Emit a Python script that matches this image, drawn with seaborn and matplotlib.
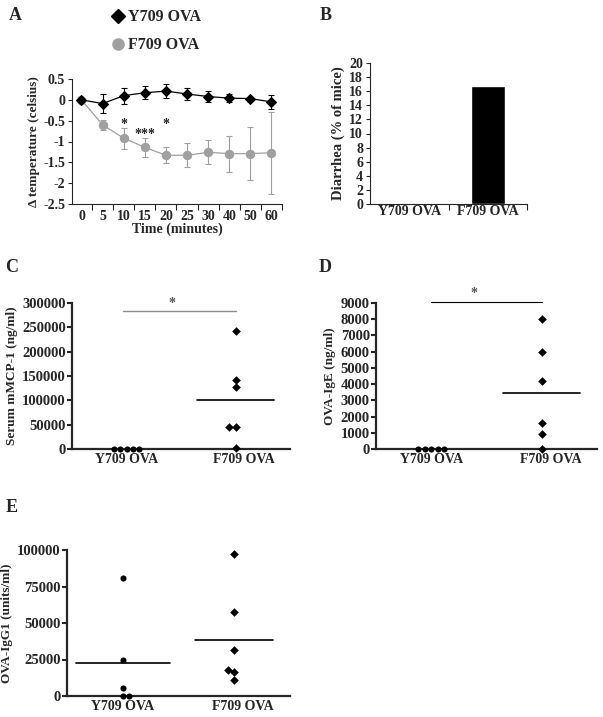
import numpy as np
import pandas as pd
import matplotlib
matplotlib.use('Agg')
import matplotlib.pyplot as plt
from matplotlib.lines import Line2D
import seaborn as sns

# ---- data ----
groups = ['Y709 OVA', 'F709 OVA']

# A: change in temperature over time
time_labels = ['0', '5', '10', '15', '20', '25', '30', '40', '50', '60']
y709_temp = [0, -0.09, 0.10, 0.17, 0.21, 0.14, 0.08, 0.04, 0.03, -0.05]
y709_err = [0, 0.23, 0.19, 0.16, 0.16, 0.14, 0.13, 0.09, 0.05, 0.16]
f709_temp = [0, -0.60, -0.92, -1.14, -1.33, -1.33, -1.26, -1.29, -1.29, -1.27]
f709_err = [0, 0.12, 0.25, 0.22, 0.19, 0.29, 0.29, 0.43, 0.64, 0.99]
temp_ticks = [0.5, 0, -0.5, -1, -1.5, -2, -2.5]
temp_tick_labels = ['0.5', '0', '-0.5', '-1', '-1.5', '-2', '-2.5']
star_time = ['10', '15', '20']
star_text = ['*', '***', '*']
star_y = [-0.6, -0.84, -0.6]

# B: diarrhea
diarrhea = [0, 16.67]

# C: serum mMCP-1
mcp_y709 = [0, 0, 0, 0, 0]
mcp_f709 = [242000, 142000, 127000, 45000, 45000, 2000]

# D: OVA-IgE
ige_y709 = [0, 0, 0, 0, 0]
ige_f709 = [8000, 5950, 4200, 1600, 950, 0]

# E: OVA-IgG1
igg_y709 = [81000, 25000, 5500, 0, 0]
igg_f709 = [97500, 57500, 31500, 17500, 16500, 11000]

# ---- style ----
sns.set_style('ticks')
plt.rcParams['font.family'] = ['Liberation Serif', 'DejaVu Serif']
plt.rcParams['font.weight'] = 'bold'
plt.rcParams['axes.labelweight'] = 'bold'

W, H = 603, 717
fig = plt.figure(figsize=(W / 100, H / 100), dpi=100)


def add_ax(l, r, t, b):
    return fig.add_axes([l / W, 1 - b / H, (r - l) / W, (b - t) / H])


gray = '#a0a0a0'

# ---- A ----
axA = add_ax(72, 282, 79, 204)
x = np.arange(len(time_labels))
axA.errorbar(x, f709_temp, yerr=f709_err, fmt='none', ecolor=gray, elinewidth=0.8, capsize=2, capthick=0.8)
axA.errorbar(x, y709_temp, yerr=y709_err, fmt='none', ecolor='black', elinewidth=0.8, capsize=2, capthick=0.8)
sns.lineplot(x=x, y=f709_temp, ax=axA, color=gray, marker='o', markersize=6, markeredgecolor=gray, linewidth=0.9)
sns.lineplot(x=x, y=y709_temp, ax=axA, color='black', marker='D', markersize=5, markeredgecolor='black', linewidth=0.9)
for t, s, yy in zip(star_time, star_text, star_y):
    axA.text(time_labels.index(t), yy, s, ha='center', va='center', fontsize=10)
axA.set_xlim(-0.45, 9.5)
axA.set_ylim(-2.5, 0.5)
axA.set_xticks(x)
axA.set_xticklabels(time_labels, fontsize=10, fontweight='bold')
axA.set_xticks(np.arange(-0.5, 10, 1)[1:], minor=True)
axA.tick_params(axis='x', which='major', length=0, pad=4)
axA.tick_params(axis='x', which='minor', length=4, width=0.8, direction='out')
axA.set_yticks(temp_ticks)
axA.set_yticklabels(temp_tick_labels, fontsize=10, fontweight='bold')
axA.tick_params(axis='y', length=3, width=0.8, pad=2)
axA.set_xlabel('Time (minutes)', fontsize=10, labelpad=0)
axA.set_ylabel('\u0394 temperature (celsius)', fontsize=9.5, labelpad=2)
for sp in ['top', 'right']:
    axA.spines[sp].set_visible(False)
for sp in ['left', 'bottom']:
    axA.spines[sp].set_linewidth(0.8)
handles = [Line2D([], [], marker='D', color='black', linestyle='none', markersize=7),
           Line2D([], [], marker='o', color=gray, linestyle='none', markersize=8)]
fig.legend(handles, groups, loc='upper left', bbox_to_anchor=(96 / W, 1 + 5 / H), frameon=False,
           prop={'family': 'Liberation Serif', 'weight': 'bold', 'size': 11.5},
           handletextpad=0.1, labelspacing=0.75, handlelength=1.0)

# ---- B ----
axB = add_ax(370, 527, 63, 204)
sns.barplot(x=groups, y=diarrhea, ax=axB, color='black', width=0.43, saturation=1)
axB.set_xlim(-0.5, 1.5)
axB.set_ylim(0, 20)
axB.set_yticks(np.arange(0, 21, 2))
axB.set_yticklabels([str(v) for v in range(0, 21, 2)], fontsize=10, fontweight='bold')
axB.set_xticks([0, 1])
axB.set_xticklabels(groups, fontsize=10, fontweight='bold')
axB.set_xticks([0.5, 1.5], minor=True)
axB.tick_params(axis='x', which='major', length=0, pad=1)
axB.tick_params(axis='x', which='minor', length=4, width=0.8)
axB.tick_params(axis='y', length=3, width=0.8, pad=2)
axB.set_ylabel('Diarrhea (% of mice)', fontsize=10.5, labelpad=3)
for sp in ['top', 'right']:
    axB.spines[sp].set_visible(False)
for sp in ['left', 'bottom']:
    axB.spines[sp].set_linewidth(0.8)


# ---- dot plots ----
def dot_panel(ax, yvals, fvals, ymax, yticks, ylabel, y_marker='o', y_half=0.35):
    df = pd.DataFrame({'group': [groups[0]] * len(yvals) + [groups[1]] * len(fvals),
                       'value': list(yvals) + list(fvals)})
    sns.swarmplot(data=df[df.group == groups[0]], x='group', y='value', order=groups, ax=ax,
                  color='black', marker=y_marker, size=4.4)
    sns.swarmplot(data=df[df.group == groups[1]], x='group', y='value', order=groups, ax=ax,
                  color='black', marker='D', size=4.4)
    for c in ax.collections:
        c.set_clip_on(False)
    means = df.groupby('group', sort=False)['value'].mean()
    for i, g in enumerate(groups):
        half = y_half if i == 0 else 0.35
        ax.plot([i - half, i + half], [means[g], means[g]], color='black', lw=1.2, clip_on=False)
    ax.set_xlim(-0.5, 1.5)
    ax.set_ylim(0, ymax)
    ax.set_yticks(yticks)
    ax.set_yticklabels([str(v) for v in yticks], fontsize=10.5, fontweight='bold')
    ax.set_xticks([0, 1.08])
    ax.set_xticklabels(groups, fontsize=10, fontweight='bold')
    ax.tick_params(axis='x', length=0, pad=3)
    ax.tick_params(axis='y', length=3.5, width=1.5, pad=1)
    ax.set_xlabel('')
    ax.set_ylabel(ylabel, fontsize=9.5, labelpad=3)
    for sp in ['top', 'right']:
        ax.spines[sp].set_visible(False)
    for sp in ['left', 'bottom']:
        ax.spines[sp].set_linewidth(1.6)


axC = add_ax(72, 290, 303, 449)
dot_panel(axC, mcp_y709, mcp_f709, 300000, list(range(0, 300001, 50000)), 'Serum mMCP-1 (ng/ml)')
axC.plot([-0.03, 1.0], [283000, 283000], color='#8c8c8c', lw=1.0)
axC.text(0.42, 285000, '*', ha='center', va='bottom', fontsize=10, color='#555555')

axD = add_ax(376, 597, 303, 449)
dot_panel(axD, ige_y709, ige_f709, 9000, list(range(0, 9001, 1000)), 'OVA-IgE (ng/ml)')
axD.plot([0, 1.0], [9080, 9080], color='black', lw=0.8, clip_on=False)
axD.text(0.39, 9200, '*', ha='center', va='bottom', fontsize=10, color='#555555')

axE = add_ax(67, 290, 550, 696)
dot_panel(axE, igg_y709, igg_f709, 100000, list(range(0, 100001, 25000)), 'OVA-IgG1 (units/ml)',
          y_marker='o', y_half=0.42)

# panel letters
for lab, px, py in [('A', 15, 15), ('B', 326, 15), ('C', 12, 267), ('D', 325, 267), ('E', 12, 508)]:
    fig.text(px / W, 1 - py / H, lab, fontsize=13, fontweight='bold', ha='center', va='center')

fig.savefig('out.png', dpi=100)
